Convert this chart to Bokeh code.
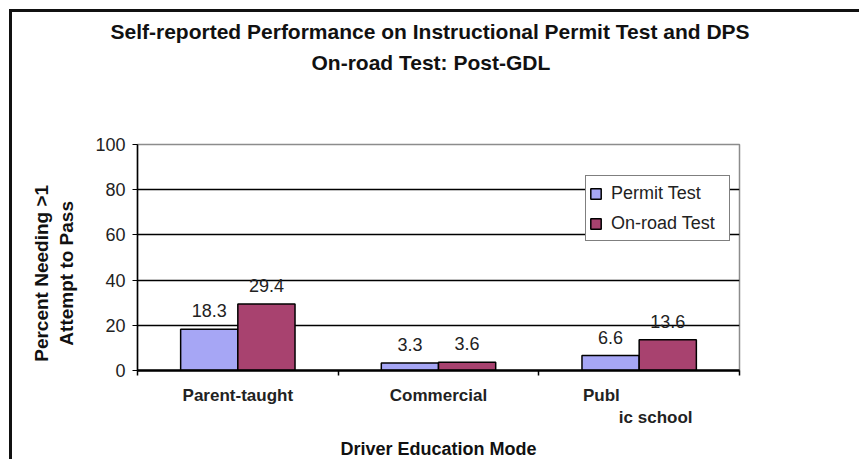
from bokeh.plotting import figure
from bokeh.models import (ColumnDataSource, FactorRange, Range1d, LinearAxis, FixedTicker,
                          LabelSet, Grid, Title)
from bokeh.core.properties import value
from bokeh.transform import dodge
from bokeh.embed import file_html
from bokeh.resources import INLINE

# ---- data ----
categories = ["Parent-taught", "Commercial", "Public school"]
category_display = ["Parent-taught", "Commercial",
                    "Publ" + "\u00a0" * 16 + "\n" + "\u00a0" * 7 + "ic school"]
permit_test = [18.3, 3.3, 6.6]
onroad_test = [29.4, 3.6, 13.6]
y_ticks = [0, 20, 40, 60, 80, 100]
title_lines = ["Self-reported Performance on Instructional Permit Test and DPS",
               "On-road Test: Post-GDL"]
NB = "\u00a0" * 6
y_title = "Percent Needing >1" + NB + "\n" + "Attempt to Pass" + NB
x_title = "Driver Education Mode"
series_names = ["Permit Test", "On-road Test"]

BLUE = "#A6A6F5"
RED = "#A8426F"
FONT = "Liberation Sans"

src = ColumnDataSource(dict(
    cat=categories,
    permit=permit_test,
    onroad=onroad_test,
    permit_txt=[f"{v:.1f}" for v in permit_test],
    onroad_txt=[f"{v:.1f}" for v in onroad_test],
))

W, H = 850, 450
FL, FR, FB = 125, 727, 358  # frame edges in canvas px

p = figure(width=W, height=H, x_range=FactorRange(*categories, range_padding=0),
           y_range=Range1d(0, 100), x_axis_type=None, y_axis_type=None,
           output_backend="svg", toolbar_location=None,
           min_border_left=FL, min_border_right=W - FR,
           min_border_top=0, min_border_bottom=H - FB)
p.styles = {"border-top": "3px solid #111111", "border-left": "3px solid #111111",
            "margin-left": "9px", "margin-top": "9px"}
p.background_fill_color = "white"
p.border_fill_color = "white"
p.outline_line_color = "#8c8c8c"
p.outline_line_width = 1.5

# titles stacked above the plot (first added sits closest to the plot);
# the blank first one is only a spacer between the title block and the plot
tfont = dict(text_font=FONT, text_font_style="bold", text_font_size="21px",
             text_color="#111111")
t0 = Title(text="\u00a0", standoff=45, align="center", **tfont)
t2 = Title(text=title_lines[1], standoff=2, align="left", offset=174, **tfont)
t1 = Title(text=title_lines[0], standoff=10, align="left", offset=-27, **tfont)
p.add_layout(t0, "above")
p.add_layout(t2, "above")
p.add_layout(t1, "above")

# y axis
yax = LinearAxis(ticker=FixedTicker(ticks=y_ticks), axis_label=y_title)
yax.axis_line_color = "black"
yax.axis_line_width = 1.5
yax.major_tick_out = 5
yax.major_tick_in = 0
yax.minor_tick_line_color = None
yax.major_label_standoff = 7
yax.major_label_text_font = FONT
yax.major_label_text_font_size = "18px"
yax.major_label_text_color = "#222222"
yax.axis_label_standoff = 15
yax.axis_label_text_font = FONT
yax.axis_label_text_font_style = "bold"
yax.axis_label_text_font_size = "19px"
yax.axis_label_text_color = "#111111"
p.add_layout(yax, "left")

# x axis: labels at category centres, tick marks at category boundaries
n = len(categories)
xax = LinearAxis(ticker=FixedTicker(ticks=[i + 0.5 for i in range(n)],
                                    minor_ticks=list(range(n + 1))),
                 axis_label=x_title)
xax.major_label_overrides = {i + 0.5: category_display[i] for i in range(n)}
xax.axis_line_color = "black"
xax.axis_line_width = 2.5
xax.major_tick_line_color = None
xax.major_tick_out = 0
xax.major_tick_in = 0
xax.minor_tick_out = 5
xax.minor_tick_in = 0
xax.minor_tick_line_color = "black"
xax.minor_tick_line_width = 1.5
xax.major_label_standoff = 10
xax.major_label_text_font = FONT
xax.major_label_text_font_style = "bold"
xax.major_label_text_font_size = "17px"
xax.major_label_text_color = "#222222"
xax.axis_label_standoff = 9
xax.axis_label_text_font = FONT
xax.axis_label_text_font_style = "bold"
xax.axis_label_text_font_size = "18px"
xax.axis_label_text_color = "#111111"
p.add_layout(xax, "below")

grid = Grid(dimension=1, ticker=FixedTicker(ticks=y_ticks[1:-1]))
grid.grid_line_color = "black"
grid.grid_line_width = 1.3
p.add_layout(grid)

bw = 0.285
p.vbar(x=dodge("cat", -bw / 2, range=p.x_range), top="permit", width=bw, source=src,
       fill_color=BLUE, line_color="black", line_width=1.5, legend_label=series_names[0])
p.vbar(x=dodge("cat", bw / 2, range=p.x_range), top="onroad", width=bw, source=src,
       fill_color=RED, line_color="black", line_width=1.5, legend_label=series_names[1])

for col, txt, off in (("permit", "permit_txt", -bw / 2), ("onroad", "onroad_txt", bw / 2)):
    p.add_layout(LabelSet(x=dodge("cat", off, range=p.x_range), y=col, text=txt, source=src,
                          y_offset=12, text_align="center", text_baseline="alphabetic",
                          text_font=value(FONT), text_font_size=value("18px"),
                          text_color="#222222"))

leg = p.legend[0]
leg.location = (448, 129)
leg.border_line_color = "black"
leg.border_line_width = 1.5
leg.background_fill_alpha = 1
leg.padding = 3
leg.spacing = 2
leg.margin = 0
leg.glyph_width = 13
leg.glyph_height = 13
leg.label_height = 28
leg.label_width = 115
leg.label_standoff = 9
leg.label_text_font = FONT
leg.label_text_font_size = "18px"
leg.label_text_color = "#222222"

open("out.html", "w").write(file_html(p, INLINE))
